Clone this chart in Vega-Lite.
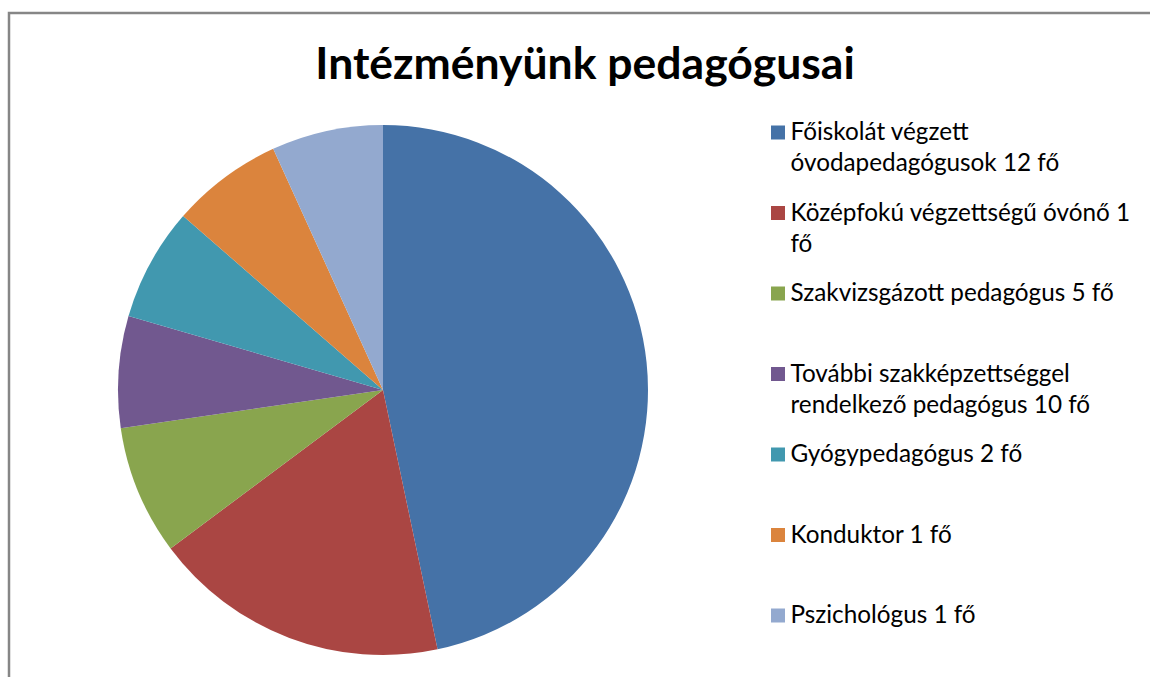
{
  "$schema": "https://vega.github.io/schema/vega-lite/v6.json",
  "usermeta": {"embedOptions": {"actions": false}},
  "width": 530,
  "height": 530,
  "autosize": {"type": "none"},
  "padding": {"left": 118, "top": 125, "right": 502, "bottom": 22},
  "background": "white",
  "title": {
    "text": "Intézményünk pedagógusai",
    "font": "Lato",
    "fontSize": 44.5,
    "fontWeight": "bold",
    "color": "black",
    "anchor": "middle",
    "frame": "group",
    "dx": 202,
    "offset": -76.5
  },
  "data": {
    "values": [
      {"rank": 1, "category": "Főiskolát végzett\nóvodapedagógusok 12 fő", "share": 46.7},
      {"rank": 2, "category": "Középfokú végzettségű óvónő 1\nfő", "share": 18.1},
      {"rank": 3, "category": "Szakvizsgázott pedagógus 5 fő", "share": 7.9},
      {"rank": 4, "category": "További szakképzettséggel\nrendelkező pedagógus 10 fő", "share": 6.8},
      {"rank": 5, "category": "Gyógypedagógus 2 fő", "share": 6.9},
      {"rank": 6, "category": "Konduktor 1 fő", "share": 6.8},
      {"rank": 7, "category": "Pszichológus 1 fő", "share": 6.8}
    ]
  },
  "mark": {"type": "arc", "outerRadius": 265},
  "encoding": {
    "theta": {"field": "share", "type": "quantitative", "stack": true},
    "order": {"field": "rank", "type": "quantitative"},
    "color": {
      "field": "category",
      "type": "nominal",
      "sort": null,
      "scale": {
        "domain": [
          "Főiskolát végzett\nóvodapedagógusok 12 fő",
          "Középfokú végzettségű óvónő 1\nfő",
          "Szakvizsgázott pedagógus 5 fő",
          "További szakképzettséggel\nrendelkező pedagógus 10 fő",
          "Gyógypedagógus 2 fő",
          "Konduktor 1 fő",
          "Pszichológus 1 fő"
        ],
        "range": ["#4572A7", "#AA4643", "#89A54E", "#71588F", "#4198AF", "#DB843D", "#93A9CF"]
      },
      "legend": {
        "orient": "none",
        "legendX": -109,
        "legendY": -112,
        "title": null,
        "padding": 107.35,
        "symbolType": "square",
        "symbolSize": 196,
        "symbolStrokeWidth": 0,
        "symbolOffset": 649.5,
        "labelFont": "Lato",
        "labelFontSize": 24.3,
        "labelColor": "black",
        "labelLimit": 450,
        "labelOffset": 0.35,
        "labelBaseline": "alphabetic",
        "rowPadding": 24.5,
        "labelExpr": "length(split(datum.label, '\\n')) > 1 ? split(datum.label, '\\n') : [datum.label, '']",
        "encode": {
          "legend": {"update": {"stroke": {"value": "#868686"}, "strokeWidth": {"value": 2.5}}},
          "labels": {"update": {"dy": {"value": 7.5}, "lineHeight": {"value": 31}}}
        }
      }
    }
  },
  "config": {"view": {"stroke": null}}
}
